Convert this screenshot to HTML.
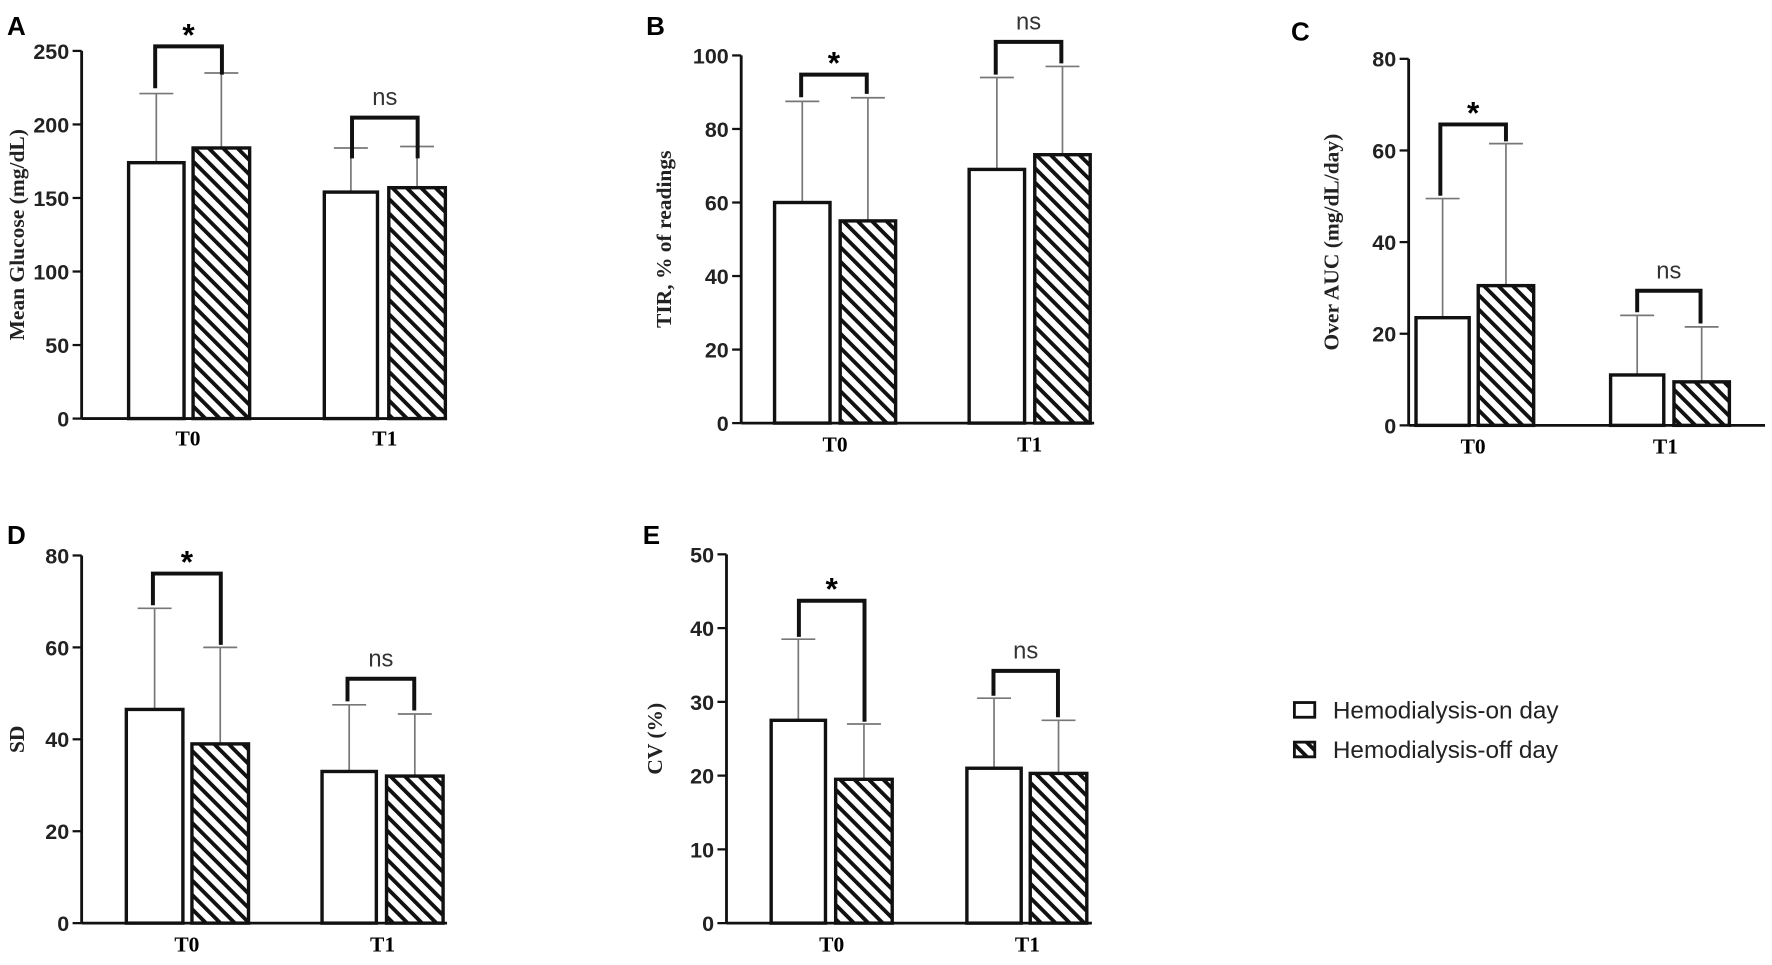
<!DOCTYPE html>
<html><head><meta charset="utf-8"><style>html,body{margin:0;padding:0;background:#fff}svg{display:block}</style></head>
<body>
<svg id="s" width="1772" height="965" viewBox="0 0 1566 853" xmlns="http://www.w3.org/2000/svg">
<defs>
<pattern id="h" patternUnits="userSpaceOnUse" width="9" height="9" patternTransform="rotate(-45)">
<rect width="9" height="9" fill="#fff"/><rect x="0" y="0" width="3.4" height="9" fill="#111"/>
</pattern>
</defs>
<g id="g" font-family="Liberation Sans, sans-serif"></g>
</svg>
<script>
const panels=[
{L:'A',lx:6,ly:31,ax:72,y0:370,ytop:45,max:250,step:50,xe:395,lab:'Mean Glucose (mg/dL)',labx:21,
 bars:[[112,164,174,221],[169,222,184,235],[285,335,154,184],[342,395,157,185]],
 br:[[137,196,41,78,66,'*'],[311,369,104,140,140,'ns']],xl:[[166,'T0'],[340,'T1']],xly:394},
{L:'B',lx:571,ly:31,ax:655,y0:374,ytop:49,max:100,step:20,xe:967,lab:'TIR, % of readings',labx:593,
 bars:[[683,735,60,87.5],[741,793,55,88.5],[855,907,69,94],[913,965,73,97]],
 br:[[708,766,66,86,83,'*'],[880,938,37,66,56,'ns']],xl:[[738,'T0'],[910,'T1']],xly:399},
{L:'C',lx:1141,ly:36,ax:1245,y0:376,ytop:52,max:80,step:20,xe:1560,lab:'Over AUC (mg/dL/day)',labx:1183,
 bars:[[1250,1300,23.5,49.5],[1305,1357,30.5,61.5],[1422,1472,11,24],[1478,1530,9.5,21.5]],
 br:[[1273,1331,110,173,125,'*'],[1447,1503,257,276,286,'ns']],xl:[[1302,'T0'],[1472,'T1']],xly:401},
{L:'D',lx:6,ly:481,ax:72,y0:816,ytop:491,max:80,step:20,xe:395,lab:'SD',labx:21,
 bars:[[110,163,46.5,68.5],[168,221,39,60],[283,334,33,47.5],[340,393,32,45.5]],
 br:[[135,195,507,535,570,'*'],[307,366,600,620,628,'ns']],xl:[[165,'T0'],[338,'T1']],xly:841},
{L:'E',lx:568,ly:481,ax:642,y0:816,ytop:490,max:50,step:10,xe:965,lab:'CV (%)',labx:585,
 bars:[[680,731,27.5,38.5],[737,790,19.5,27],[853,904,21,30.5],[909,962,20.3,27.5]],
 br:[[706,764,531,563,638,'*'],[878,935,593,615,634,'ns']],xl:[[735,'T0'],[908,'T1']],xly:841}
];
let o='';
for(const p of panels){
 const sc=(p.y0-p.ytop)/p.max, Y=v=>p.y0-v*sc;
 o+=`<text x="${p.lx}" y="${p.ly}" font-size="23" font-weight="bold">${p.L}</text>`;
 o+=`<line x1="${p.ax}" y1="${p.ytop}" x2="${p.ax}" y2="${p.y0}" stroke="#111" stroke-width="2.5"/>`;
 o+=`<line x1="${p.ax}" y1="${p.y0}" x2="${p.xe}" y2="${p.y0}" stroke="#111" stroke-width="2.5"/>`;
 for(let v=0;v<=p.max;v+=p.step){const y=Y(v);
  o+=`<line x1="${p.ax-8}" y1="${y}" x2="${p.ax}" y2="${y}" stroke="#111" stroke-width="2"/>`;
  o+=`<text x="${p.ax-11}" y="${y+7}" font-size="19" font-weight="bold" text-anchor="end" fill="#222">${v}</text>`;}
 const cy=(p.ytop+p.y0)/2;
 o+=`<text transform="translate(${p.labx},${cy}) rotate(-90)" text-anchor="middle" font-family="Liberation Serif, serif" font-size="19" font-weight="bold" fill="#222">${p.lab}</text>`;
 p.bars.forEach((b,i)=>{const cx=(b[0]+b[1])/2, ty=Y(b[2]), ey=Y(b[3]);
  o+=`<line x1="${cx}" y1="${ey}" x2="${cx}" y2="${ty}" stroke="#777" stroke-width="1.5"/>`;
  o+=`<line x1="${cx-15}" y1="${ey}" x2="${cx+15}" y2="${ey}" stroke="#777" stroke-width="1.5"/>`;
  o+=`<rect x="${b[0]+1.5}" y="${ty}" width="${b[1]-b[0]-3}" height="${p.y0-ty}" fill="${i%2?'url(#h)':'#fff'}" stroke="#111" stroke-width="3"/>`;});
 for(const r of p.br){
  o+=`<polyline points="${r[0]},${r[3]} ${r[0]},${r[2]} ${r[1]},${r[2]} ${r[1]},${r[4]}" fill="none" stroke="#111" stroke-width="3.5"/>`;
  const mx=(r[0]+r[1])/2;
  if(r[5]=='*')o+=`<text x="${mx}" y="${r[2]-1}" font-size="28" font-weight="bold" text-anchor="middle">*</text>`;
  else o+=`<text x="${mx}" y="${r[2]-11}" font-size="21" text-anchor="middle" fill="#333">ns</text>`;}
 for(const x of p.xl)o+=`<text x="${x[0]}" y="${p.xly}" font-family="Liberation Serif, serif" font-size="19" font-weight="bold" text-anchor="middle">${x[1]}</text>`;
}
o+=`<rect x="1144" y="621" width="18" height="13" fill="#fff" stroke="#111" stroke-width="2.5"/>`;
o+=`<text x="1178" y="635" font-size="21.5" fill="#222">Hemodialysis-on day</text>`;
o+=`<rect x="1144" y="656" width="18" height="13" fill="url(#h)" stroke="#111" stroke-width="2.5"/>`;
o+=`<text x="1178" y="670" font-size="21.5" fill="#222">Hemodialysis-off day</text>`;
document.getElementById('g').innerHTML=o;
</script>
</body></html>
